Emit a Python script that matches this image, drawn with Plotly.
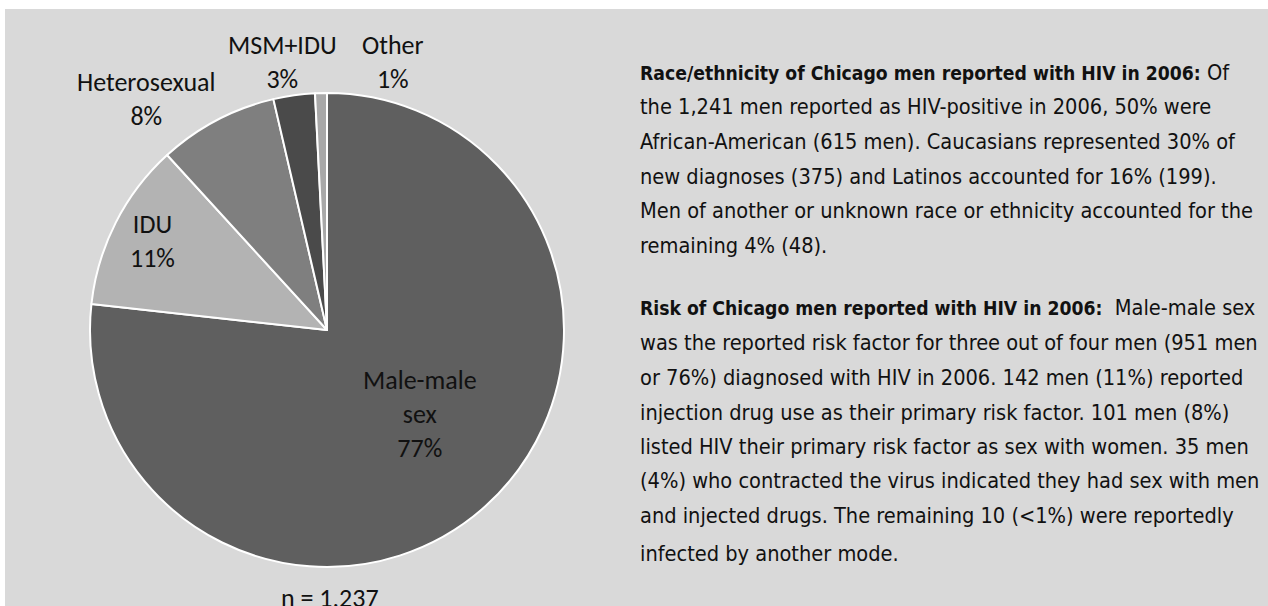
import plotly.graph_objects as go

# ---- data ----
categories = ["Male-male<br>sex", "IDU", "Heterosexual", "MSM+IDU", "Other"]
men_counts = [951, 142, 101, 35, 10]
slice_colors = ["#5f5f5f", "#b3b3b3", "#7f7f7f", "#4a4a4a", "#a8a8a8"]
n_label = "n = 1,237"

para1_bold = "Race/ethnicity of Chicago men reported with HIV in 2006:"
para1 = [
    " Of",
    "the 1,241 men reported as HIV-positive in 2006, 50% were",
    "African-American (615 men). Caucasians represented 30% of",
    "new diagnoses (375) and Latinos accounted for 16% (199).",
    "Men of another or unknown race or ethnicity accounted for the",
    "remaining 4% (48).",
]
para2_bold = "Risk of Chicago men reported with HIV in 2006:"
para2 = [
    "  Male-male sex",
    "was the reported risk factor for three out of four men (951 men",
    "or 76%) diagnosed with HIV in 2006. 142 men (11%) reported",
    "injection drug use as their primary risk factor. 101 men (8%)",
    "listed HIV their primary risk factor as sex with women. 35 men",
    "(4%) who contracted the virus indicated they had sex with men",
    "and injected drugs. The remaining 10 (<1%) were reportedly",
    "infected by another mode.",
]

# ---- layout constants (pixels) ----
W, H = 1268, 606
cx, cy, r = 327, 330, 237
label_pos = [(420, 414), (152, 241), (146, 99), (282, 62), (393, 62)]  # label centres
text_left = 638
p1_base = [80, 114.6, 149.2, 183.8, 218.4, 253]
p2_base = [315, 350, 385, 420, 454, 488, 523, 561]

LABEL_FONT = "Carlito, Lato, sans-serif"
TEXT_FONT = "Liberation Sans Narrow, Arial Narrow, DejaVu Sans Condensed, sans-serif"
LABEL_SIZE = 26
fs = 21.6
bold_fs = 19.2


def px(x):
    return x / W


def py(y):
    return 1 - y / H


fig = go.Figure()
fig.add_trace(go.Pie(
    labels=categories,
    values=men_counts,
    sort=False,
    direction="clockwise",
    rotation=0,
    textinfo="none",
    hoverinfo="label+percent",
    marker=dict(colors=slice_colors, line=dict(color="white", width=2)),
    domain=dict(x=[px(cx - r), px(cx + r)], y=[py(cy + r), py(cy - r)]),
    showlegend=False,
))

total = sum(men_counts)
annotations = []
for cat, v, (lx, ly) in zip(categories, men_counts, label_pos):
    pct = round(100 * v / total)
    annotations.append(dict(
        x=px(lx), y=py(ly), xref="paper", yref="paper",
        text=f"{cat}<br>{pct}%", showarrow=False,
        xanchor="center", yanchor="middle",
        font=dict(family=LABEL_FONT, size=LABEL_SIZE, color="#111111"),
    ))
annotations.append(dict(
    x=px(cx + 3), y=py(598), xref="paper", yref="paper",
    text=n_label, showarrow=False, xanchor="center", yanchor="middle",
    font=dict(family=LABEL_FONT, size=LABEL_SIZE, color="#111111"),
))

for bold, lines, bases in ((para1_bold, para1, p1_base), (para2_bold, para2, p2_base)):
    for i, (t, b) in enumerate(zip(lines, bases)):
        txt = t.replace("<", "&lt;")
        if i == 0:
            txt = f"<b><span style='font-size:{bold_fs}px'>{bold}</span></b>{txt}"
        annotations.append(dict(
            x=px(text_left), y=py(b - 0.36 * fs), xref="paper", yref="paper",
            text=txt, showarrow=False, xanchor="left", yanchor="middle",
            align="left",
            font=dict(family=TEXT_FONT, size=fs, color="#111111"),
        ))

fig.update_layout(
    width=W, height=H,
    margin=dict(l=0, r=0, t=0, b=0),
    paper_bgcolor="white",
    shapes=[dict(type="rect", xref="paper", yref="paper",
                 x0=px(5), x1=1, y0=0, y1=py(9),
                 fillcolor="#d9d9d9", line=dict(width=0), layer="below")],
    annotations=annotations,
)

fig.write_html(
    "out.html",
    config={"displayModeBar": False},
    post_script="document.body.style.margin='0';document.body.style.overflow='hidden';",
)
